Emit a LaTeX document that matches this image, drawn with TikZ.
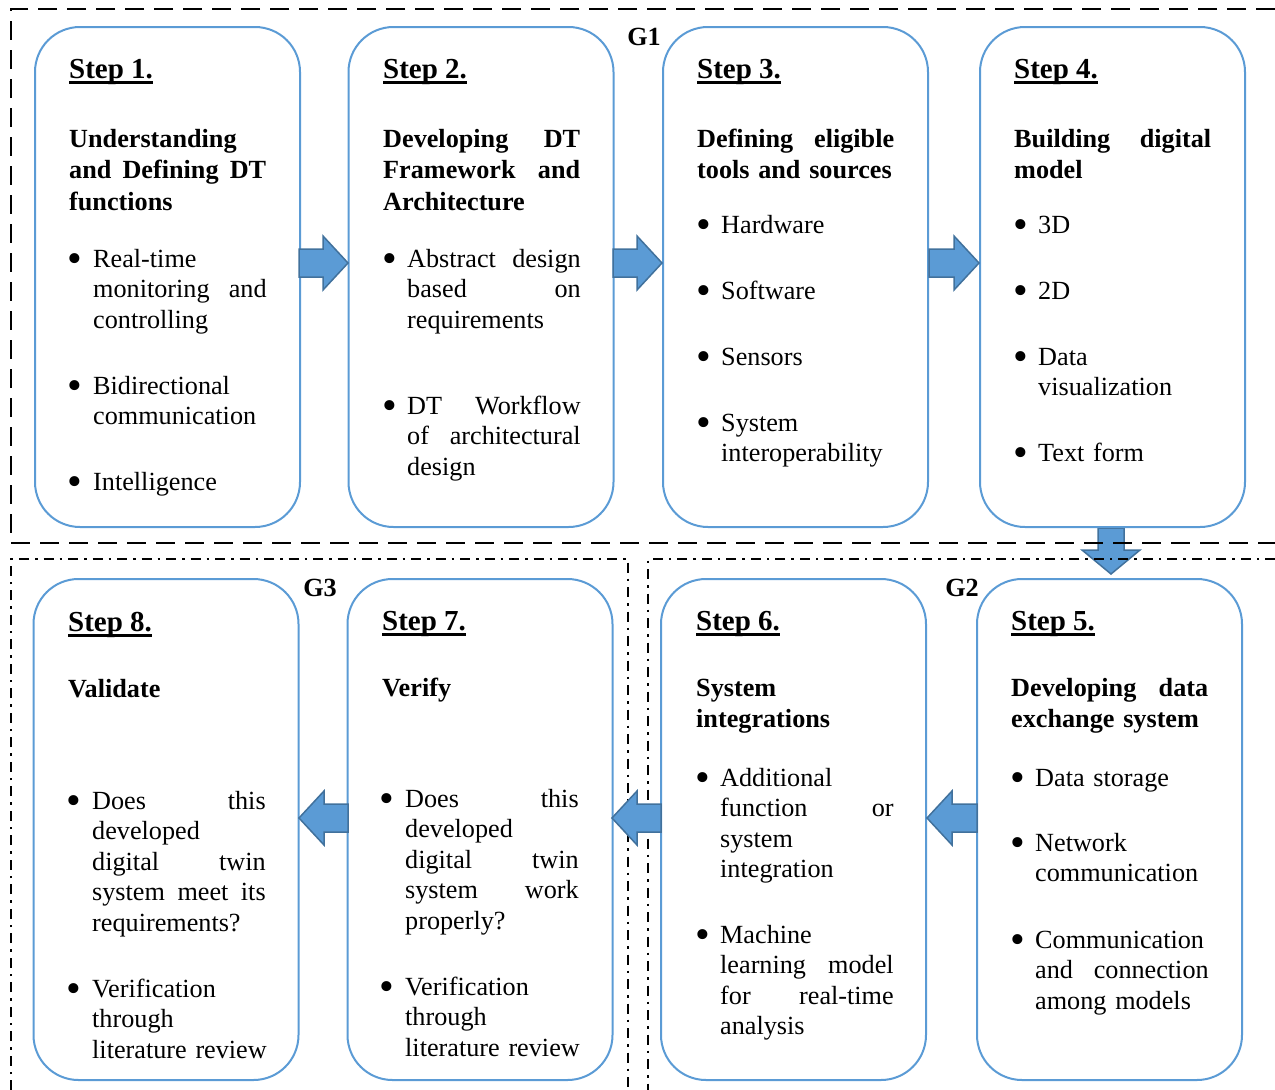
\documentclass[tikz,border=0pt]{standalone}
\usepackage{fontspec}
\setmainfont{Liberation Serif}
\definecolor{boxblue}{HTML}{5B9BD5}
\definecolor{arrowedge}{HTML}{41719C}
\newcommand\jb[1]{\leavevmode\hbox to 173.5pt{#1}}
\newcommand\jh[1]{\leavevmode\hbox to 197pt{#1}}
\newcommand\bul{\leavevmode\llap{\raisebox{-5.5pt}{\fontsize{42}{42}\selectfont\textbullet}\hspace{10.5pt}}}
\newcommand\stepul[1]{\setbox0\hbox{#1}\rlap{\rule[-5.5pt]{\wd0}{2.3pt}}\box0}
\newcommand\rightblock[3]{\draw[blockarrow] (#1,{#3-14}) -- ({#2-25},{#3-14}) -- ({#2-25},{#3-27}) -- (#2,#3) -- ({#2-25},{#3+27}) -- ({#2-25},{#3+14}) -- (#1,{#3+14}) -- cycle;}
\newcommand\leftblock[3]{\draw[blockarrow] (#1,{#3-14}) -- ({#2+25},{#3-14}) -- ({#2+25},{#3-27}) -- (#2,#3) -- ({#2+25},{#3+27}) -- ({#2+25},{#3+14}) -- (#1,{#3+14}) -- cycle;}
\newcommand\downblock[3]{\draw[blockarrow] ({#1-13},#2) -- ({#1+13},#2) -- ({#1+13},{#3-24}) -- ({#1+29},{#3-24}) -- (#1,#3) -- ({#1-29},{#3-24}) -- ({#1-13},{#3-24}) -- cycle;}
\begin{document}
\begin{tikzpicture}[x=1pt,y=-1pt,
 stepbox/.style={draw=boxblue, line width=2pt, rounded corners=45pt, inner sep=0pt, minimum width=265pt, minimum height=500pt},
 ttl/.style={font=\bfseries\fontsize{29}{31.5}\selectfont, inner sep=0pt, anchor=base west},
 hd/.style={font=\bfseries\fontsize{26.2}{31.5}\selectfont, inner sep=0pt, anchor=base west, text width=240pt, align=left},
 bl/.style={font=\fontsize{26.2}{30.5}\selectfont, inner sep=0pt, anchor=base west, text width=230pt, align=left},
 blockarrow/.style={fill=boxblue, draw=arrowedge, line width=1.5pt, line join=miter},
 gone/.style={line width=2.5pt, dash pattern=on 19pt off 10pt},
 gtwo/.style={line width=2pt, dash pattern=on 10pt off 6pt on 2.5pt off 6pt},
 glabel/.style={font=\bfseries\fontsize{26.2}{30}\selectfont, inner sep=0pt}
]
\useasboundingbox (0,0) rectangle (1275,1090);

% down arrow (beneath the frames)
\downblock{1111}{528}{574}

% group frames
\draw[gone] (1275,9) -- (11,9) -- (11,543) -- (1275,543);
\draw[gtwo] (11,1090) -- (11,559) -- (628,559) -- (628,1090);
\draw[gtwo] (1275,559) -- (648,559) -- (648,1090);

\node[glabel] (g1) at (644,37) {G1};
\node[glabel] (g3) at (320,588) {G3};
\node[glabel] (g2) at (962,588) {G2};

% boxes
\node[stepbox] (b1) at (167.5,277) {};
\node[stepbox] (b2) at (481,277) {};
\node[stepbox] (b3) at (795.5,277) {};
\node[stepbox] (b4) at (1112.5,277) {};
\node[stepbox, minimum height=501pt] (b8) at (166,829.5) {};
\node[stepbox, minimum height=501pt] (b7) at (480,829.5) {};
\node[stepbox, minimum height=501pt] (b6) at (793.5,829.5) {};
\node[stepbox, minimum height=501pt] (b5) at (1109.5,829.5) {};

% block arrows
\rightblock{299}{348}{263}
\rightblock{613}{662}{263}
\rightblock{929}{979}{263}
\leftblock{977}{927}{818}
\leftblock{661}{612}{818}
\leftblock{348}{299}{818}

% Step 1
\node[ttl] (t1) at (69,78) {\stepul{Step 1.}};
\node[hd] (h1) at (69,147) {Understanding\\ \jh{and\hfill Defining\hfill DT}\\ functions};
\node[bl] (s1a) at (93,267) {\bul Real-time\\ \jb{monitoring\hfill and}\\ controlling};
\node[bl] (s1b) at (93,394) {\bul Bidirectional\\ communication};
\node[bl] (s1c) at (93,490) {\bul Intelligence};

% Step 2
\node[ttl] (t2) at (383,78) {\stepul{Step 2.}};
\node[hd] (h2) at (383,147) {\jh{Developing\hfill DT}\\ \jh{Framework\hfill and}\\ Architecture};
\node[bl] (s2a) at (407,267) {\bul\jb{Abstract\hfill design}\\ \jb{based\hfill on}\\ requirements};
\node[bl] (s2b) at (407,414) {\bul\jb{DT\hfill Workflow}\\ \jb{of\hfill architectural}\\ design};

% Step 3
\node[ttl] (t3) at (697,78) {\stepul{Step 3.}};
\node[hd] (h3) at (697,147) {\jh{Defining\hfill eligible}\\ tools and sources};
\node[bl] (s3a) at (721,233) {\bul Hardware};
\node[bl] (s3b) at (721,299) {\bul Software};
\node[bl] (s3c) at (721,365) {\bul Sensors};
\node[bl] (s3d) at (721,431) {\bul System\\ interoperability};

% Step 4
\node[ttl] (t4) at (1014,78) {\stepul{Step 4.}};
\node[hd] (h4) at (1014,147) {\jh{Building\hfill digital}\\ model};
\node[bl] (s4a) at (1038,233) {\bul 3D};
\node[bl] (s4b) at (1038,299) {\bul 2D};
\node[bl] (s4c) at (1038,365) {\bul Data\\ visualization};
\node[bl] (s4d) at (1038,461) {\bul Text form};

% Step 8
\node[ttl] (t8) at (68,631) {\stepul{Step 8.}};
\node[hd] (h8) at (68,697) {Validate};
\node[bl] (s8a) at (92,809) {\bul\jb{Does\hfill this}\\ developed\\ \jb{digital\hfill twin}\\ \jb{system\hfill meet\hfill its}\\ requirements?};
\node[bl] (s8b) at (92,997) {\bul Verification\\ through\\ literature review};

% Step 7
\node[ttl] (t7) at (382,630) {\stepul{Step 7.}};
\node[hd] (h7) at (382,696) {Verify};
\node[bl] (s7a) at (405,807) {\bul\jb{Does\hfill this}\\ developed\\ \jb{digital\hfill twin}\\ \jb{system\hfill work}\\ properly?};
\node[bl] (s7b) at (405,995) {\bul Verification\\ through\\ literature review};

% Step 6
\node[ttl] (t6) at (696,630) {\stepul{Step 6.}};
\node[hd] (h6) at (696,696) {System\\ integrations};
\node[bl] (s6a) at (720,786) {\bul Additional\\ \jb{function\hfill or}\\ system\\ integration};
\node[bl] (s6b) at (720,943) {\bul Machine\\ \jb{learning\hfill model}\\ \jb{for\hfill real-time}\\ analysis};

% Step 5
\node[ttl] (t5) at (1011,630) {\stepul{Step 5.}};
\node[hd] (h5) at (1011,696) {\jh{Developing\hfill data}\\ exchange system};
\node[bl] (s5a) at (1035,786) {\bul Data storage};
\node[bl] (s5b) at (1035,851) {\bul Network\\ communication};
\node[bl] (s5c) at (1035,948) {\bul Communication\\ \jb{and\hfill connection}\\ among models};
\end{tikzpicture}
\end{document}
